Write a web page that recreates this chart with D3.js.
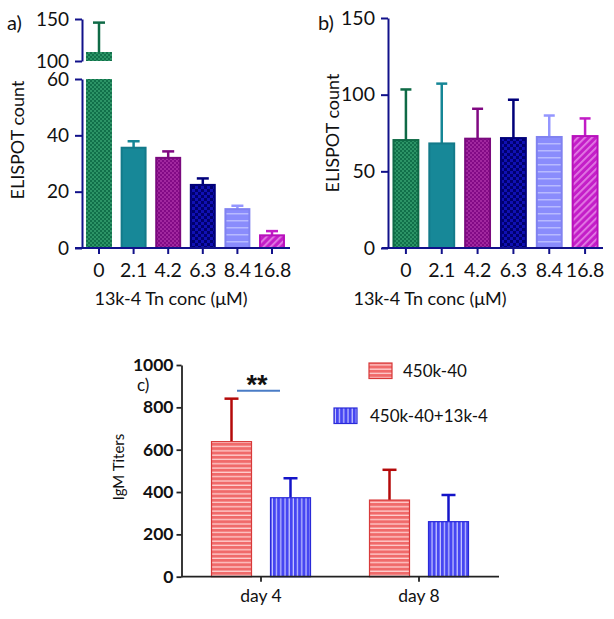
<!DOCTYPE html>
<html>
<head>
<meta charset="utf-8">
<script src="https://cdn.jsdelivr.net/npm/d3@7"></script>
<style>
  body { margin: 0; background: #fff; }
  text { font-family: Lato, "Open Sans", sans-serif; fill: #111; }
</style>
</head>
<body>
<script>
// ---- data ----
var conc = ["0", "2.1", "4.2", "6.3", "8.4", "16.8"];
var aMean = [110.7, 35.6, 32.0, 22.4, 13.8, 4.5];
var aErr  = [35, 2.3, 2.3, 2.3, 1.2, 1.5];
var bMean = [70.4, 68.2, 71.3, 71.7, 72.4, 73.0];
var bErr  = [33, 39, 19.5, 25, 14, 11.5];
var days = ["day 4", "day 8"];
var groups = ["450k-40", "450k-40+13k-4"];
var redMean = [638, 362], redErr = [203, 143];
var blueMean = [373, 260], blueErr = [92, 126];

var FONT = "Lato, 'Open Sans', sans-serif";

var svg = d3.select("body").append("svg")
  .attr("width", 614).attr("height", 619);

var defs = svg.append("defs");

// patterns for the concentration bars
function checker(id, base, dot, s) {
  var p = defs.append("pattern").attr("id", id)
    .attr("patternUnits", "userSpaceOnUse").attr("width", s * 2).attr("height", s * 2);
  p.append("rect").attr("width", s * 2).attr("height", s * 2).attr("fill", base);
  p.append("rect").attr("width", s).attr("height", s).attr("fill", dot);
  p.append("rect").attr("x", s).attr("y", s).attr("width", s).attr("height", s).attr("fill", dot);
}
checker("pGreen", "#11704a", "#2c9466", 2);
checker("pPurple", "#820a86", "#a1289f", 2);
checker("pNavy", "#1010b4", "#00006e", 3);

var pl = defs.append("pattern").attr("id", "pLilac")
  .attr("patternUnits", "userSpaceOnUse").attr("width", 8).attr("height", 7);
pl.append("rect").attr("width", 8).attr("height", 7).attr("fill", "#8a8cfc");
pl.append("rect").attr("y", 3).attr("width", 8).attr("height", 1.5).attr("fill", "#b8baff");

var pm = defs.append("pattern").attr("id", "pMag")
  .attr("patternUnits", "userSpaceOnUse").attr("width", 5).attr("height", 5)
  .attr("patternTransform", "rotate(45)");
pm.append("rect").attr("width", 5).attr("height", 5).attr("fill", "#c41ec8");
pm.append("rect").attr("width", 1.8).attr("height", 5).attr("fill", "#e27ae4");

var pr = defs.append("pattern").attr("id", "pRed")
  .attr("patternUnits", "userSpaceOnUse").attr("width", 6).attr("height", 4.3);
pr.append("rect").attr("width", 6).attr("height", 4.3).attr("fill", "#f06a6a");
pr.append("rect").attr("y", 3).attr("width", 6).attr("height", 1.3).attr("fill", "#ffd0d0");

var pb = defs.append("pattern").attr("id", "pBlue")
  .attr("patternUnits", "userSpaceOnUse").attr("width", 4.2).attr("height", 6);
pb.append("rect").attr("width", 4.2).attr("height", 6).attr("fill", "#4646f2");
pb.append("rect").attr("x", 3).attr("width", 1.2).attr("height", 6).attr("fill", "#c8c8ff");

var fills   = ["url(#pGreen)", "#178898", "url(#pPurple)", "url(#pNavy)", "url(#pLilac)", "url(#pMag)"];
var strokes = ["#0f6a46", "#137a8a", "#7a0a7e", "#00007a", "#8082f0", "#b810bc"];
var errCol  = ["#0f6a46", "#158696", "#800882", "#00007a", "#9496ff", "#c21cc6"];

var navy = "#11118a";

function styleAxis(g, col, w, size) {
  g.style("font-size", size + "px").style("font-family", FONT);
  g.selectAll("path").attr("stroke", col).attr("stroke-width", w);
  g.selectAll("line").attr("stroke", col).attr("stroke-width", w);
  g.selectAll("text").attr("fill", "#111");
}

function errBar(g, x, y0, y1, cap, col, w) {
  g.append("line").attr("x1", x).attr("x2", x).attr("y1", y0).attr("y2", y1)
    .attr("stroke", col).attr("stroke-width", w);
  g.append("line").attr("x1", x - cap / 2).attr("x2", x + cap / 2).attr("y1", y1).attr("y2", y1)
    .attr("stroke", col).attr("stroke-width", w);
}

// ---------------- panel a (broken axis) ----------------
var ga = svg.append("g");
var xA = d3.scaleBand().domain(conc).range([81.7, 289.3]).paddingInner(0.25).paddingOuter(0.125);
var yLow = d3.scaleLinear().domain([0, 60]).range([248, 79]);
var yHigh = d3.scaleLinear().domain([100, 150]).range([61, 19]);

conc.forEach(function(c, i) {
  var x = xA(c), w = xA.bandwidth(), cx = x + w / 2;
  var v = aMean[i];
  if (v > 60) {
    ga.append("rect").attr("x", x).attr("y", yLow(60)).attr("width", w)
      .attr("height", yLow(0) - yLow(60)).attr("fill", fills[i]);
    errBar(ga, cx, yHigh(v), yHigh(v + aErr[i]), 12, errCol[i], 2.5);
    ga.append("rect").attr("x", x).attr("y", yHigh(v)).attr("width", w)
      .attr("height", yHigh(100) - yHigh(v)).attr("fill", fills[i]);
  } else {
    errBar(ga, cx, yLow(v), yLow(v + aErr[i]), 12, errCol[i], 2.5);
    ga.append("rect").attr("x", x + 1).attr("y", yLow(v)).attr("width", w - 2)
      .attr("height", yLow(0) - yLow(v)).attr("fill", fills[i])
      .attr("stroke", strokes[i]).attr("stroke-width", 2);
  }
});

var axLow = ga.append("g").attr("transform", "translate(82,0)")
  .call(d3.axisLeft(yLow).tickValues([0, 20, 40, 60]).tickSize(7).tickPadding(6).tickSizeOuter(0));
var axHigh = ga.append("g").attr("transform", "translate(82,0)")
  .call(d3.axisLeft(yHigh).tickValues([100, 150]).tickSize(7).tickPadding(6).tickSizeOuter(0));
styleAxis(axLow, navy, 2, 19);
styleAxis(axHigh, navy, 2, 19);
var axA = ga.append("g").attr("transform", "translate(0,248)")
  .call(d3.axisBottom(xA).tickSize(6).tickPadding(9).tickSizeOuter(0));
styleAxis(axA, navy, 2, 19.5);
axA.select("path").attr("d", "M75,0H290");

ga.append("text").attr("x", 7).attr("y", 30).style("font-size", "20px").text("a)");
ga.append("text").attr("transform", "translate(24,140) rotate(-90)")
  .attr("text-anchor", "middle").style("font-size", "18px").text("ELISPOT count");
ga.append("text").attr("x", 171).attr("y", 305).attr("text-anchor", "middle")
  .style("font-size", "18px").text("13k-4 Tn conc (\u03bcM)");

// ---------------- panel b ----------------
var gb = svg.append("g");
var xB = d3.scaleBand().domain(conc).range([388, 603]).paddingInner(0.25).paddingOuter(0.125);
var yB = d3.scaleLinear().domain([0, 150]).range([248, 18]);

conc.forEach(function(c, i) {
  var x = xB(c), w = xB.bandwidth(), cx = x + w / 2;
  errBar(gb, cx, yB(bMean[i]), yB(bMean[i] + bErr[i]), 11, errCol[i], 2.5);
  gb.append("rect").attr("x", x + 1).attr("y", yB(bMean[i])).attr("width", w - 2)
    .attr("height", yB(0) - yB(bMean[i])).attr("fill", fills[i])
    .attr("stroke", strokes[i]).attr("stroke-width", 2);
});

var ayB = gb.append("g").attr("transform", "translate(388,0)")
  .call(d3.axisLeft(yB).tickValues([0, 50, 100, 150]).tickSize(7).tickPadding(6).tickSizeOuter(0));
styleAxis(ayB, navy, 2, 19.5);
var axB = gb.append("g").attr("transform", "translate(0,248)")
  .call(d3.axisBottom(xB).tickSize(6).tickPadding(9).tickSizeOuter(0));
styleAxis(axB, navy, 2, 19.5);
axB.select("path").attr("d", "M382,0H603");

gb.append("text").attr("x", 318).attr("y", 30).style("font-size", "20px").text("b)");
gb.append("text").attr("transform", "translate(339,133) rotate(-90)")
  .attr("text-anchor", "middle").style("font-size", "18px").text("ELISPOT count");
gb.append("text").attr("x", 430).attr("y", 305).attr("text-anchor", "middle")
  .style("font-size", "18px").text("13k-4 Tn conc (\u03bcM)");

// ---------------- panel c ----------------
var gc = svg.append("g");
var xC = d3.scaleBand().domain(days).range([182, 498]);
var x1 = d3.scaleBand().domain(groups).range([0, xC.bandwidth()]).paddingInner(0.322).paddingOuter(0.5);
var yC = d3.scaleLinear().domain([0, 1000]).range([576.7, 365]);

var series = [
  { mean: redMean, err: redErr, fill: "url(#pRed)", stroke: "#d83a3a", ecol: "#b40a0a" },
  { mean: blueMean, err: blueErr, fill: "url(#pBlue)", stroke: "#2a2ad8", ecol: "#1414c8" }
];

days.forEach(function(d, j) {
  series.forEach(function(s, k) {
    var x = xC(d) + x1(groups[k]), w = x1.bandwidth(), cx = x + w / 2;
    errBar(gc, cx, yC(s.mean[j]), yC(s.mean[j] + s.err[j]), 14, s.ecol, 2.5);
    gc.append("rect").attr("x", x).attr("y", yC(s.mean[j])).attr("width", w)
      .attr("height", yC(0) - yC(s.mean[j])).attr("fill", s.fill)
      .attr("stroke", s.stroke).attr("stroke-width", 1.2);
  });
});

var ayC = gc.append("g").attr("transform", "translate(181.5,0)")
  .call(d3.axisLeft(yC).tickValues([0, 200, 400, 600, 800, 1000]).tickFormat(d3.format("d"))
    .tickSize(5).tickPadding(3).tickSizeOuter(0));
styleAxis(ayC, "#222", 1.8, 17.5);
ayC.style("font-weight", "700");
ayC.selectAll("text").attr("fill", "#333");
var axC = gc.append("g").attr("transform", "translate(0,576.7)")
  .call(d3.axisBottom(xC).tickSize(5).tickPadding(8).tickSizeOuter(0));
styleAxis(axC, "#222", 1.8, 17.5);
axC.selectAll("text").attr("fill", "#2a2a2a");
axC.select("path").attr("d", "M181.5,0H499");

gc.append("text").attr("x", 137).attr("y", 391).style("font-size", "17px").text("c)");
gc.append("text").attr("transform", "translate(124,467) rotate(-90)")
  .attr("text-anchor", "middle").style("font-size", "15px").attr("fill", "#444").text("IgM Titers");

// significance marker
gc.append("line").attr("x1", 237).attr("x2", 280).attr("y1", 390.7).attr("y2", 390.7)
  .attr("stroke", "#4a7cc6").attr("stroke-width", 2);
gc.append("text").attr("x", 257).attr("y", 394).attr("text-anchor", "middle")
  .style("font-family", "'Liberation Sans', Arial, sans-serif")
  .style("font-size", "27px").style("font-weight", "700").text("**");

// legend
var leg = [
  { x: 369, y: 363, tx: 403, ty: 371, fill: "url(#pRed)", stroke: "#d83a3a" },
  { x: 334, y: 408, tx: 370, ty: 416, fill: "url(#pBlue)", stroke: "#2a2ad8" }
];
leg.forEach(function(l, k) {
  gc.append("rect").attr("x", l.x).attr("y", l.y).attr("width", 23).attr("height", 15.5)
    .attr("fill", l.fill).attr("stroke", l.stroke).attr("stroke-width", 1.2);
  gc.append("text").attr("x", l.tx).attr("y", l.ty).attr("dy", "0.35em")
    .style("font-size", "17px").attr("fill", "#2a2a2a").text(groups[k]);
});
</script>
</body>
</html>
